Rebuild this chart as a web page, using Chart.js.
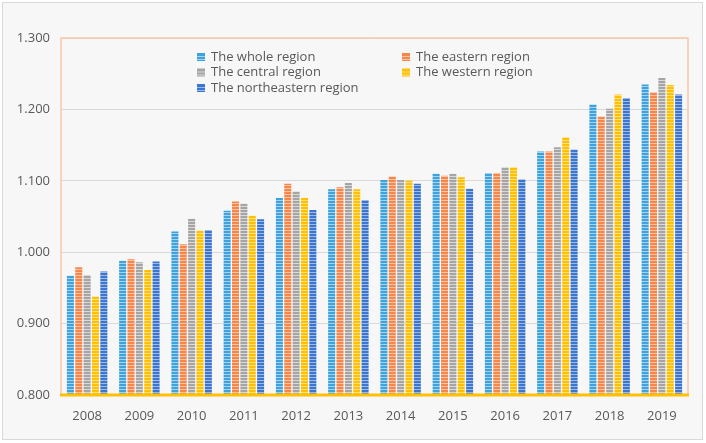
<!DOCTYPE html>
<html lang="en">
<head>
    <meta charset="UTF-8">
    <title>Regional index 2008-2019</title>
    <script src="https://cdn.jsdelivr.net/npm/chart.js@4.4.0/dist/chart.umd.min.js"></script>
    <style>
        html, body {
            margin: 0;
            padding: 0;
            background: #ffffff;
        }
        #chart {
            display: block;
        }
    </style>
</head>
<body>
<canvas id="chart" width="706" height="443"></canvas>

<script>
    // data
    const years = ['2008', '2009', '2010', '2011', '2012', '2013', '2014', '2015', '2016', '2017', '2018', '2019'];
    const seriesNames = ['The whole region', 'The eastern region', 'The central region', 'The western region', 'The northeastern region'];
    const wholeRegion = [0.967, 0.988, 1.029, 1.058, 1.076, 1.088, 1.101, 1.110, 1.111, 1.141, 1.207, 1.235];
    const easternRegion = [0.979, 0.990, 1.011, 1.071, 1.096, 1.091, 1.106, 1.107, 1.111, 1.141, 1.190, 1.224];
    const centralRegion = [0.968, 0.986, 1.047, 1.068, 1.085, 1.097, 1.101, 1.110, 1.119, 1.147, 1.201, 1.244];
    const westernRegion = [0.938, 0.975, 1.030, 1.051, 1.076, 1.088, 1.100, 1.105, 1.119, 1.161, 1.221, 1.234];
    const northeasternRegion = [0.973, 0.987, 1.031, 1.046, 1.059, 1.073, 1.096, 1.089, 1.102, 1.144, 1.216, 1.221];
    const yTicks = [0.8, 0.9, 1.0, 1.1, 1.2, 1.3];

    const baseColors = ['#3ea2dc', '#f5874a', '#a5a5a5', '#ffc000', '#3b77cf'];
    const stripeColors = ['#a3d3f0', '#fbc3a3', '#d8d8d8', '#ffdf80', '#9db9e8'];

    // bars have thin light horizontal stripes
    function stripes(base, light) {
        const c = document.createElement('canvas');
        c.width = 4;
        c.height = 3;
        const g = c.getContext('2d');
        g.fillStyle = base;
        g.fillRect(0, 0, 4, 3);
        g.fillStyle = light;
        g.fillRect(0, 2, 4, 1);
        return g.createPattern(c, 'repeat');
    }

    const values = [wholeRegion, easternRegion, centralRegion, westernRegion, northeasternRegion];
    const datasets = values.map((v, i) => ({
        label: seriesNames[i],
        data: v,
        backgroundColor: stripes(baseColors[i], stripeColors[i]),
        legendColor: baseColors[i],
        legendStripe: stripeColors[i],
        borderWidth: 0,
        categoryPercentage: 0.8,
        barPercentage: 0.84
    }));

    const frame = {
        id: 'frame',
        beforeDraw(chart) {
            const ctx = chart.ctx;
            ctx.save();
            ctx.fillStyle = '#ffffff';
            ctx.fillRect(0, 0, chart.width, chart.height);
            ctx.fillStyle = '#f7f7f7';
            ctx.fillRect(2, 2, 701, 438);
            ctx.strokeStyle = '#d9d9d9';
            ctx.lineWidth = 1;
            ctx.strokeRect(2.5, 2.5, 700, 437);
            ctx.restore();
        },
        afterDatasetsDraw(chart) {
            const a = chart.chartArea;
            const ctx = chart.ctx;
            ctx.save();
            ctx.strokeStyle = '#f9c6a6';
            ctx.lineWidth = 1.5;
            ctx.beginPath();
            ctx.moveTo(a.left, a.bottom);
            ctx.lineTo(a.left, a.top);
            ctx.lineTo(a.right, a.top);
            ctx.lineTo(a.right, a.bottom);
            ctx.stroke();
            ctx.strokeStyle = '#ffc000';
            ctx.lineWidth = 3;
            ctx.beginPath();
            ctx.moveTo(a.left - 1, a.bottom);
            ctx.lineTo(a.right + 1, a.bottom);
            ctx.stroke();

            // legend, two columns inside the plot
            const cols = [a.left + 136, a.left + 341];
            const rows = [a.top + 19, a.top + 34.5, a.top + 50];
            ctx.font = '13px "Open Sans", sans-serif';
            ctx.textBaseline = 'middle';
            ctx.fillStyle = '#595959';
            chart.data.datasets.forEach((ds, i) => {
                const x = cols[i % 2];
                const y = rows[Math.floor(i / 2)];
                ctx.fillStyle = ds.legendColor;
                ctx.fillRect(x, y - 4, 8, 8);
                ctx.fillStyle = ds.legendStripe;
                ctx.fillRect(x, y - 1, 8, 1);
                ctx.fillRect(x, y + 2, 8, 1);
                ctx.fillStyle = '#595959';
                ctx.fillText(ds.label, x + 14, y);
            });
            ctx.restore();
        }
    };

    new Chart(document.getElementById('chart'), {
        type: 'bar',
        data: {
            labels: years,
            datasets: datasets
        },
        options: {
            responsive: false,
            animation: false,
            devicePixelRatio: 1,
            layout: {
                padding: { top: 38, right: 18, left: 0, bottom: 0 }
            },
            plugins: {
                legend: { display: false },
                tooltip: { enabled: false }
            },
            scales: {
                x: {
                    grid: { display: false, drawTicks: false },
                    border: { display: false },
                    ticks: {
                        color: '#595959',
                        font: { family: 'Open Sans', size: 13 },
                        padding: 13
                    },
                    afterFit(scale) {
                        scale.height = 48;
                    }
                },
                y: {
                    min: 0.8,
                    max: 1.3,
                    afterBuildTicks(scale) {
                        scale.ticks = yTicks.map(v => ({ value: v }));
                    },
                    grid: { color: '#d9d9d9', drawTicks: false },
                    border: { display: false },
                    ticks: {
                        color: '#595959',
                        font: { family: 'Open Sans', size: 13 },
                        padding: 11,
                        callback: v => Number(v).toFixed(3)
                    },
                    afterFit(scale) {
                        scale.width = 61;
                    }
                }
            }
        },
        plugins: [frame]
    });
</script>
</body>
</html>
